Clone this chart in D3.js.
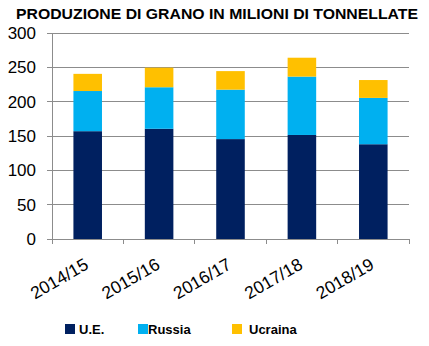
<!DOCTYPE html>
<html><head><meta charset="utf-8">
<script src="https://cdn.jsdelivr.net/npm/d3@7"></script>
<style>body{margin:0;background:#fff;} text{font-family:"Liberation Sans",Arial,sans-serif;}</style>
</head><body><svg id="c" width="429" height="346"></svg>
<script>
const categories = ["2014/15","2015/16","2016/17","2017/18","2018/19"];
const seriesNames = ["U.E.","Russia","Ucraina"];
const ue = [157,160.5,145.5,151.5,138];
const russia = [58.5,60.5,72,85,67.5];
const ucraina = [25,28.5,27,27.5,26];
const yTicks = [0,50,100,150,200,250,300];
const colors = ["#002060","#00B0F0","#FFC000"];

const svg = d3.select("#c");
const x0 = 52, x1 = 409, yTop = 33, yBot = 239;
const x = d3.scaleBand().domain(categories).range([x0,x1]).paddingInner(0.6).paddingOuter(0.3);
const xb = d3.scaleBand().domain(categories).range([x0,x1]);
const y = d3.scaleLinear().domain([0,300]).range([yBot,yTop]);

svg.append("text").attr("x",217).attr("y",19).attr("text-anchor","middle")
  .attr("font-size",15.5).attr("font-weight","bold")
  .attr("textLength",402).attr("lengthAdjust","spacingAndGlyphs")
  .text("PRODUZIONE DI GRANO IN MILIONI DI TONNELLATE");

// gridlines
svg.append("g").selectAll("line").data(yTicks).join("line")
  .attr("x1",x0-5).attr("x2",x1).attr("y1",d=>y(d)).attr("y2",d=>y(d))
  .attr("stroke","#8c8c8c").attr("stroke-width",1).attr("shape-rendering","crispEdges");
svg.append("line").attr("x1",x0).attr("x2",x0).attr("y1",yTop).attr("y2",yBot)
  .attr("stroke","#8c8c8c").attr("shape-rendering","crispEdges");
svg.append("g").selectAll("text").data(yTicks).join("text")
  .attr("x",36).attr("y",d=>y(d)+6).attr("text-anchor","end").attr("font-size",17).attr("fill","#000").text(d=>d);

// x ticks
const bounds = categories.map(c=>xb(c)).concat([x1]);
svg.append("g").selectAll("line").data(bounds).join("line")
  .attr("x1",d=>d).attr("x2",d=>d).attr("y1",yBot).attr("y2",yBot+5)
  .attr("stroke","#8c8c8c").attr("shape-rendering","crispEdges");

// stacks
const data = categories.map((c,i)=>({cat:c,"U.E.":ue[i],"Russia":russia[i],"Ucraina":ucraina[i]}));
const stack = d3.stack().keys(seriesNames)(data);
svg.append("g").selectAll("g").data(stack).join("g").attr("fill",(d,i)=>colors[i])
  .selectAll("rect").data(d=>d).join("rect")
  .attr("x",d=>x(d.data.cat)).attr("width",x.bandwidth())
  .attr("y",d=>y(d[1])).attr("height",d=>y(d[0])-y(d[1]));

// x labels
svg.append("g").selectAll("text").data(categories).join("text")
  .attr("transform",d=>`translate(${xb(d)+xb.bandwidth()/2+2},${yBot+29}) rotate(-30)`)
  .attr("text-anchor","end").attr("font-size",17.5).text(d=>d);

// legend
const leg = [{x:65,tx:79},{x:138,tx:148},{x:232,tx:249}];
const lg = svg.append("g");
seriesNames.forEach((n,i)=>{
  lg.append("rect").attr("x",leg[i].x).attr("y",324).attr("width",10).attr("height",10).attr("fill",colors[i]);
  lg.append("text").attr("x",leg[i].tx).attr("y",333.5).attr("font-size",13).attr("font-weight","bold").text(n);
});
</script></body></html>
